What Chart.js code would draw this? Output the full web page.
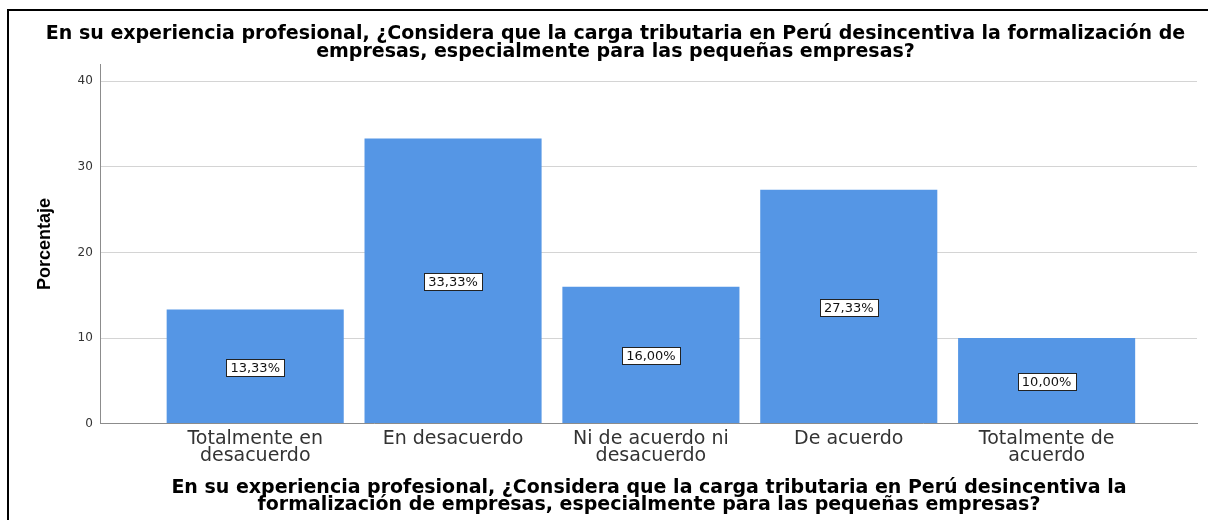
<!DOCTYPE html>
<html>
<head>
<meta charset="utf-8">
<script src="https://cdn.jsdelivr.net/npm/chart.js@4"></script>
<style>
  html, body { margin: 0; padding: 0; background: #fff; }
  #wrap { position: relative; width: 1208px; height: 520px; }
  #frame { position: absolute; left: 7px; top: 9px; right: -4px; bottom: -4px; border-left: 2px solid #000; border-top: 2px solid #000; pointer-events: none; }
  canvas { position: absolute; left: 0; top: 0; }
</style>
</head>
<body>
<div id="wrap">
  <canvas id="c" width="1208" height="520"></canvas>
  <div id="frame"></div>
</div>
<script>
const categories = [
  ["Totalmente en", "desacuerdo"],
  ["En desacuerdo"],
  ["Ni de acuerdo ni", "desacuerdo"],
  ["De acuerdo"],
  ["Totalmente de", "acuerdo"]
];
const percentages = [13.33, 33.33, 16.00, 27.33, 10.00];
const yTicks = [0, 10, 20, 30, 40];
const chartTitle = ["En su experiencia profesional, ¿Considera que la carga tributaria en Perú desincentiva la formalización de", "empresas, especialmente para las pequeñas empresas?"];
const xTitle = ["En su experiencia profesional, ¿Considera que la carga tributaria en Perú desincentiva la", "formalización de empresas, especialmente para las pequeñas empresas?"];
const yTitle = "Porcentaje";

const labelPlugin = {
  id: 'barLabels',
  afterDatasetsDraw(chart) {
    const ctx = chart.ctx;
    const meta = chart.getDatasetMeta(0);
    ctx.save();
    ctx.font = '13px "DejaVu Sans"';
    ctx.textAlign = 'center';
    ctx.textBaseline = 'middle';
    meta.data.forEach((bar, i) => {
      const txt = percentages[i].toFixed(2).replace('.', ',') + '%';
      const cx = bar.x;
      const cy = (bar.y + bar.base) / 2 + 1;
      const w = Math.round(ctx.measureText(txt).width + 8);
      const h = 17;
      const x0 = Math.round(cx - w / 2) + 0.5, y0 = Math.round(cy - h / 2) + 0.5;
      ctx.fillStyle = '#fff';
      ctx.fillRect(x0, y0, w, h);
      ctx.strokeStyle = '#222';
      ctx.lineWidth = 1;
      ctx.strokeRect(x0, y0, w, h);
      ctx.fillStyle = '#111';
      ctx.fillText(txt, cx, cy + 1);
    });
    ctx.restore();
  }
};

new Chart(document.getElementById('c'), {
  type: 'bar',
  data: {
    datasets: [{
      data: percentages.map((v, i) => ({ x: i, y: v })),
      backgroundColor: '#5596e5',
      borderWidth: 0,
      categoryPercentage: 1,
      barPercentage: 0.895
    }]
  },
  options: {
    responsive: false,
    animation: false,
    events: [],
    layout: { padding: { top: 26, left: 34, right: 11, bottom: 6 } },
    plugins: {
      legend: { display: false },
      tooltip: { enabled: false },
      title: {
        display: true,
        text: chartTitle,
        color: '#000',
        font: { family: '"DejaVu Sans"', size: 19, weight: 'bold', lineHeight: 0.9 },
        padding: { top: 0, bottom: 4 }
      }
    },
    scales: {
      x: {
        type: 'linear',
        offset: false,
        min: -0.78,
        max: 4.76,
        afterBuildTicks(axis) { axis.ticks = categories.map((c, i) => ({ value: i })); },
        grid: { display: false, drawTicks: false },
        border: { display: true, color: '#8c8c8c', width: 1 },
        ticks: {
          autoSkip: false,
          maxRotation: 0,
          padding: 7,
          color: '#333',
          font: { family: '"DejaVu Sans"', size: 19, lineHeight: 0.9 },
          callback: (v) => categories[v]
        },
        title: {
          display: true,
          text: xTitle,
          color: '#000',
          font: { family: '"DejaVu Sans"', size: 19, weight: 'bold', lineHeight: 0.9 },
          padding: { top: 8, bottom: 0 }
        }
      },
      y: {
        min: 0,
        max: 42,
        afterBuildTicks(axis) { axis.ticks = yTicks.map(v => ({ value: v })); },
        grid: { color: '#d4d4d4', drawTicks: false, lineWidth: 1 },
        border: { display: true, color: '#8c8c8c', width: 1 },
        ticks: {
          padding: 8,
          color: '#333',
          font: { family: '"DejaVu Sans"', size: 12 }
        },
        title: {
          display: true,
          text: yTitle,
          color: '#000',
          font: { family: '"Liberation Sans Narrow", "Liberation Sans"', size: 18, weight: 'bold' },
          padding: { top: 0, bottom: 14 }
        }
      }
    }
  },
  plugins: [labelPlugin]
});
</script>
</body>
</html>
